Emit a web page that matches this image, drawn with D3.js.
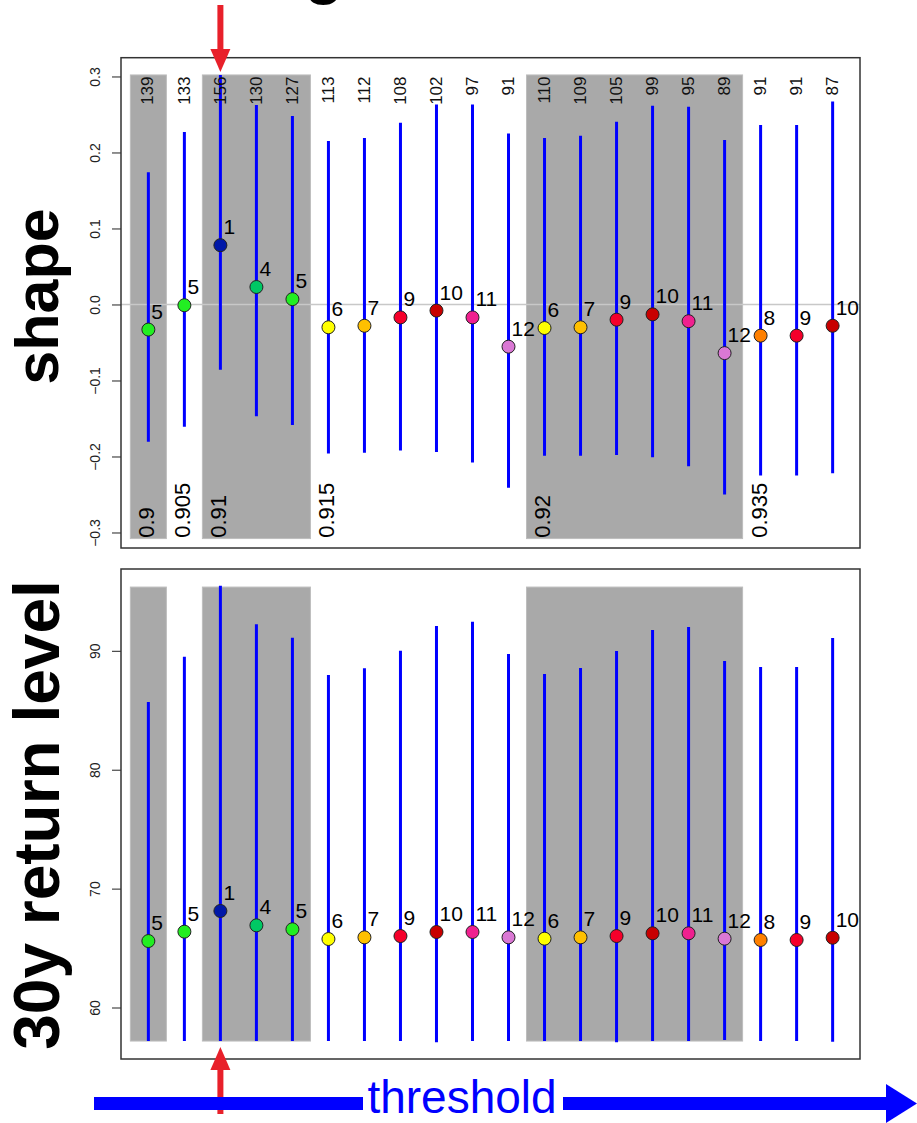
<!DOCTYPE html>
<html>
<head>
<meta charset="utf-8">
<script src="https://cdn.jsdelivr.net/npm/d3@7"></script>
<style>
  html, body { margin: 0; padding: 0; background: #fff; }
  svg { display: block; font-family: "Liberation Sans", Arial, Helvetica, sans-serif; }
</style>
</head>
<body>
<svg id="chart" width="917" height="1123"></svg>
<script>
// Number of exceedances for each fitted threshold
const exceedCounts = [139,133,156,130,127,113,112,108,102,97,91,110,109,105,99,95,89,91,91,87];
// Number of declustered components per fit (drives point colour and label)
const nComp = [5,5,1,4,5,6,7,9,10,11,12,6,7,9,10,11,12,8,9,10];
// Threshold quantile groups (first/last fit index in each group)
const groupLabels = ["0.9","0.905","0.91","0.915","0.92","0.935"];
const groupFirst  = [0, 1, 2, 5, 11, 17];
const groupLast   = [0, 1, 4, 10, 16, 19];
const groupShaded = [true, false, true, false, true, false];

// Shape parameter: estimate with lower / upper bounds
const shapeEst = [-0.033,-0.001,0.078,0.023,0.007,-0.030,-0.028,-0.017,-0.008,-0.017,-0.0555,-0.031,-0.030,-0.020,-0.013,-0.022,-0.064,-0.041,-0.041,-0.028];
const shapeLo  = [-0.1805,-0.161,-0.086,-0.147,-0.1585,-0.196,-0.195,-0.192,-0.194,-0.208,-0.241,-0.199,-0.199,-0.198,-0.201,-0.213,-0.250,-0.225,-0.225,-0.222];
const shapeHi  = [0.174,0.227,0.302,0.2625,0.248,0.215,0.219,0.239,0.263,0.263,0.225,0.219,0.222,0.2405,0.2616,0.260,0.2165,0.236,0.236,0.267];

// 30-year return level: estimate with lower / upper bounds
const rlEst = [65.59,66.38,68.12,66.91,66.58,65.76,65.90,66.01,66.35,66.35,65.90,65.79,65.90,66.01,66.24,66.24,65.79,65.68,65.68,65.87];
const rlLo  = [57.18,57.18,57.18,57.18,57.18,57.18,57.18,57.18,57.07,57.18,57.18,57.18,57.18,57.07,57.18,57.18,57.26,57.18,57.18,57.12];
const rlHi  = [85.69,89.50,95.48,92.23,91.10,87.96,88.53,90.01,92.09,92.45,89.73,88.05,88.55,89.98,91.75,92.00,89.14,88.63,88.63,91.08];

// Axis ticks and shaded band extents per panel
const shapeTicks = [-0.3,-0.2,-0.1,0.0,0.1,0.2,0.3];
const rlTicks = [60,70,80,90];
const shapeBand = [-0.308, 0.302];
const rlBand = [57.18, 95.36];
const selectedFit = 2;

// Component count -> colour
const compColors = {
  1: "#0018A8", 4: "#00C864", 5: "#22EE22", 6: "#FFFF00", 7: "#FFC000",
  8: "#FF8000", 9: "#F5002A", 10: "#C80000", 11: "#F0208F", 12: "#DA78D4"
};

const svg = d3.select("#chart");
const idx = d3.range(exceedCounts.length);

const x = d3.scaleLinear().domain([-0.76, 19.76]).range([121, 860]);
const yShape = d3.scaleLinear().domain([-0.3204, 0.3247]).range([548, 57.7]);
const yRL = d3.scaleLinear().domain([55.67, 96.88]).range([1059, 569]);

function panel(y, est, lo, hi, ticks, band, fmt, zeroLine) {
  const g = svg.append("g");
  const [x0, x1] = x.range();
  const [yb, yt] = y.range();

  // alternating shaded threshold groups
  groupLabels.forEach((lab, k) => {
    if (!groupShaded[k]) return;
    g.append("rect")
      .attr("x", x(groupFirst[k] - 0.5))
      .attr("y", y(band[1]))
      .attr("width", x(groupLast[k] + 0.5) - x(groupFirst[k] - 0.5))
      .attr("height", y(band[0]) - y(band[1]))
      .attr("fill", "#A9A9A9")
      .attr("stroke", "#BDBDBD")
      .attr("stroke-width", 1);
  });

  if (zeroLine) {
    g.append("line")
      .attr("x1", x0).attr("x2", x1)
      .attr("y1", y(0)).attr("y2", y(0))
      .attr("stroke", "#C8C8C8").attr("stroke-width", 1.5);
  }

  // interval bars
  g.selectAll("line.ci").data(idx).join("line")
    .attr("class", "ci")
    .attr("x1", i => x(i)).attr("x2", i => x(i))
    .attr("y1", i => y(lo[i])).attr("y2", i => y(hi[i]))
    .attr("stroke", "#0000FF").attr("stroke-width", 3);

  // point estimates
  g.selectAll("circle.pt").data(idx).join("circle")
    .attr("class", "pt")
    .attr("cx", i => x(i)).attr("cy", i => y(est[i]))
    .attr("r", 6.5)
    .attr("fill", i => compColors[nComp[i]])
    .attr("stroke", "#222").attr("stroke-width", 1);

  // component labels
  g.selectAll("text.nc").data(idx).join("text")
    .attr("class", "nc")
    .attr("x", i => x(i) + 3)
    .attr("y", i => y(est[i]) - 11)
    .attr("font-size", 21)
    .attr("fill", "#000")
    .text(i => nComp[i]);

  // y axis
  const ax = g.append("g")
    .attr("transform", `translate(${x0},0)`)
    .call(d3.axisLeft(y).tickValues(ticks).tickSize(9).tickFormat(fmt));
  ax.select(".domain").remove();
  ax.selectAll(".tick line").attr("stroke", "#222");
  ax.selectAll(".tick text")
    .attr("x", null).attr("dy", null)
    .attr("text-anchor", "middle")
    .attr("transform", "translate(-21,0) rotate(-90)")
    .attr("font-size", 14)
    .attr("font-family", "Liberation Sans, Arial, sans-serif")
    .attr("fill", "#222");

  // frame
  g.append("rect")
    .attr("x", x0).attr("y", yt)
    .attr("width", x1 - x0).attr("height", yb - yt)
    .attr("fill", "none").attr("stroke", "#333").attr("stroke-width", 1.5);
  return g;
}

const shapePanel = panel(yShape, shapeEst, shapeLo, shapeHi, shapeTicks, shapeBand, d3.format(".1f"), true);
const rlPanel = panel(yRL, rlEst, rlLo, rlHi, rlTicks, rlBand, d3.format("d"), false);

// exceedance counts along the top of the shape panel
shapePanel.selectAll("text.cnt").data(idx).join("text")
  .attr("class", "cnt")
  .attr("transform", i => `translate(${x(i) - 1},${yShape(0.3)}) rotate(-90)`)
  .attr("text-anchor", "end")
  .attr("dy", "0.36em")
  .attr("font-size", 17)
  .attr("fill", "#111")
  .text(i => exceedCounts[i]);

// threshold quantile labels at the bottom of the shape panel
shapePanel.selectAll("text.grp").data(groupLabels).join("text")
  .attr("class", "grp")
  .attr("transform", (d, k) => `translate(${x(groupFirst[k]) - 2},${yShape(-0.307)}) rotate(-90)`)
  .attr("text-anchor", "start")
  .attr("dy", "0.36em")
  .attr("font-size", 22)
  .attr("fill", "#000")
  .text(d => d);

// panel titles
svg.append("text")
  .attr("transform", `translate(58,${296.5}) rotate(-90)`)
  .attr("text-anchor", "middle")
  .attr("font-size", 61).attr("font-weight", "bold")
  .text("shape");
svg.append("text")
  .attr("transform", `translate(59,${815}) rotate(-90)`)
  .attr("text-anchor", "middle")
  .attr("font-size", 64).attr("font-weight", "bold")
  .text("30y return level");

// heading glyph running off the top edge
svg.append("text")
  .attr("x", 324).attr("y", -8)
  .attr("text-anchor", "middle")
  .attr("font-size", 62).attr("font-weight", "bold")
  .text("g");

// markers for the selected fit
const red = "#E8202A";
const xs = x(selectedFit);
svg.append("rect").attr("x", xs - 3).attr("y", 5).attr("width", 6).attr("height", 46).attr("fill", red);
svg.append("path").attr("d", `M${xs - 10},49 L${xs + 10},49 L${xs},72 Z`).attr("fill", red);
svg.append("rect").attr("x", xs - 3).attr("y", 1068).attr("width", 6).attr("height", 46).attr("fill", red);
svg.append("path").attr("d", `M${xs - 10},1070 L${xs + 10},1070 L${xs},1047 Z`).attr("fill", red);

// threshold direction arrow, broken around its label
const blue = "#0000FF";
svg.append("rect").attr("x", 94).attr("y", 1097).attr("width", 269).attr("height", 13).attr("fill", blue);
svg.append("rect").attr("x", 563).attr("y", 1097).attr("width", 326).attr("height", 13).attr("fill", blue);
svg.append("path").attr("d", "M886,1084 L886,1123 L917,1103.5 Z").attr("fill", blue);
svg.append("text")
  .attr("x", 462).attr("y", 1113)
  .attr("text-anchor", "middle")
  .attr("font-size", 46)
  .attr("fill", blue)
  .text("threshold");
</script>
</body>
</html>
